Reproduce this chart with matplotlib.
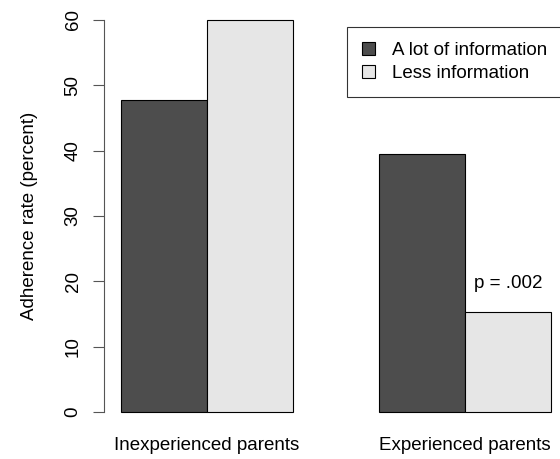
import matplotlib.pyplot as plt
from matplotlib.patches import Patch

plt.rcParams['font.family'] = ['Liberation Sans', 'DejaVu Sans']

groups = ["Inexperienced parents", "Experienced parents"]
series = ["A lot of information", "Less information"]
a_lot = [47.7, 39.5]
less = [60.0, 15.3]
colors = ["#4d4d4d", "#e6e6e6"]

fig = plt.figure(figsize=(5.6, 4.59), dpi=100)
ax = fig.add_axes([0.1854, 0.0682, 0.8293, 0.9224])

# R-style grouped barplot: bars of width 1, one bar gap between groups
left_a = [1, 4]
left_b = [2, 5]
ax.bar(left_a, a_lot, width=1, align='edge', color=colors[0], edgecolor='black', linewidth=0.8)
ax.bar(left_b, less, width=1, align='edge', color=colors[1], edgecolor='black', linewidth=0.8)

ax.set_xlim(0.8, 6.2)
ax.set_ylim(-2.4, 62.4)

for s in ['top', 'right', 'bottom']:
    ax.spines[s].set_visible(False)
ax.spines['left'].set_bounds(0, 60)
ax.spines['left'].set_position(('data', 0.8))
ax.spines['left'].set_color('#555555')

ax.set_yticks([0, 10, 20, 30, 40, 50, 60])
ax.set_yticklabels(['0', '10', '20', '30', '40', '50', '60'], rotation=90, va='center', fontsize=13.5)
ax.tick_params(axis='y', length=8, width=0.8, pad=8, color='#555555')
ax.set_xticks([])
ax.set_ylabel("Adherence rate (percent)", fontsize=13.5, labelpad=19)

for c, g in zip([2, 5], groups):
    ax.text(c, -5.2, g, ha='center', va='center', fontsize=13.5, clip_on=False)

ax.text(5.5, 19.7, "p = .002", ha='center', va='center', fontsize=13.5)

handles = [Patch(facecolor=colors[0], edgecolor='black', linewidth=0.8),
           Patch(facecolor=colors[1], edgecolor='black', linewidth=0.8)]
leg = ax.legend(handles, series, loc='upper left', bbox_to_anchor=(0.524, 0.946),
                fontsize=13.5, frameon=True, fancybox=False, edgecolor='black',
                handlelength=0.7, handleheight=0.7, handletextpad=0.9,
                labelspacing=0.3, borderpad=0.8, borderaxespad=0)
leg.get_frame().set_linewidth(0.8)

fig.savefig("out.png", dpi=100)
